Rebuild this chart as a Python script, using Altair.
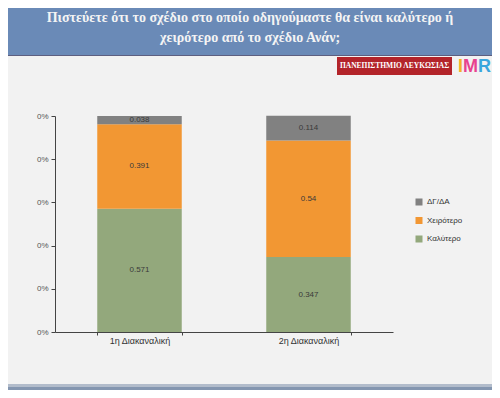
import altair as alt
import pandas as pd

categories = ["1η Διακαναλική", "2η Διακαναλική"]
series = ["Καλύτερο", "Χειρότερο", "ΔΓ/ΔΑ"]
values_better = [0.571, 0.347]
values_worse = [0.391, 0.54]
values_dk = [0.038, 0.114]
value_labels_better = ["0.571", "0.347"]
value_labels_worse = ["0.391", "0.54"]
value_labels_dk = ["0.038", "0.114"]
y_ticks = [0, 0.2, 0.4, 0.6, 0.8, 1.0]
title_lines = ["Πιστεύετε ότι το σχέδιο στο οποίο οδηγούμαστε θα είναι καλύτερο ή",
               "χειρότερο από το σχέδιο Ανάν;"]
legend_order = ["ΔΓ/ΔΑ", "Χειρότερο", "Καλύτερο"]
colors = {"ΔΓ/ΔΑ": "#818181", "Χειρότερο": "#f29733", "Καλύτερο": "#93a87c"}

rows = []
for s_i, (s, vals, labs) in enumerate(zip(series,
                                           [values_better, values_worse, values_dk],
                                           [value_labels_better, value_labels_worse, value_labels_dk])):
    for c, v, l in zip(categories, vals, labs):
        rows.append({"cat": c, "series": s, "value": v, "label": l, "ord": s_i})
df = pd.DataFrame(rows)

x_enc = alt.X("cat:N", sort=categories,
              scale=alt.Scale(paddingInner=0.5, paddingOuter=0.25),
              axis=alt.Axis(title=None, labelAngle=0, labelFont="Liberation Sans", labelFontSize=9,
                            labelColor="#333333", domainColor="#444444", tickColor="#444444",
                            tickSize=3, tickBand="extent", labelPadding=1))

bars = alt.Chart(df).mark_bar().encode(
    x=x_enc,
    y=alt.Y("value:Q", stack="zero",
            scale=alt.Scale(domain=[0, 1], nice=False),
            axis=alt.Axis(title=None, values=y_ticks, labelExpr="'0%'", grid=False,
                          labelFont="Liberation Sans", labelFontSize=8, labelColor="#555555",
                          domainColor="#444444", tickColor="#444444", tickSize=4, labelPadding=3)),
    color=alt.Color("series:N",
                    scale=alt.Scale(domain=legend_order, range=[colors[k] for k in legend_order]),
                    legend=alt.Legend(title=None, orient="none", legendX=360, legendY=82,
                                      symbolType="square", symbolSize=49, symbolStrokeWidth=0,
                                      labelFont="Liberation Sans", labelFontSize=8,
                                      labelColor="#333333", rowPadding=10.5, labelOffset=4)),
    order=alt.Order("ord:Q", sort="ascending"),
)

texts = alt.Chart(df).transform_stack(
    stack="value", groupby=["cat"], as_=["y0", "y1"],
    sort=[alt.SortField("ord", order="ascending")]
).transform_calculate(mid="(datum.y0 + datum.y1) / 2").mark_text(
    font="Liberation Sans", fontSize=8, color="#3a3a3a"
).encode(
    x=alt.X("cat:N", sort=categories),
    y=alt.Y("mid:Q"),
    text="label:N",
)

one = pd.DataFrame({"k": [0]})
banner = alt.Chart(one).mark_rect(color="#6a8ab7").encode(
    x=alt.value(-60), x2=alt.value(460), y=alt.value(-120), y2=alt.value(-61))
banner_line = alt.Chart(one).mark_rect(color="#5d5f80").encode(
    x=alt.value(-60), x2=alt.value(460), y=alt.value(-61), y2=alt.value(-60))
title1 = alt.Chart(pd.DataFrame({"t": [title_lines[0]]})).mark_text(
    font="Liberation Serif", fontSize=14, fontWeight="bold", color="#f4f4f4", align="center",
    baseline="middle").encode(x=alt.value(195), y=alt.value(-98), text="t:N")
title2 = alt.Chart(pd.DataFrame({"t": [title_lines[1]]})).mark_text(
    font="Liberation Serif", fontSize=14, fontWeight="bold", color="#f4f4f4", align="center",
    baseline="middle").encode(x=alt.value(195), y=alt.value(-78), text="t:N")
redbox = alt.Chart(one).mark_rect(color="#b3242a").encode(
    x=alt.value(282), x2=alt.value(397), y=alt.value(-59), y2=alt.value(-41))
redtext = alt.Chart(pd.DataFrame({"t": ["ΠΑΝΕΠΙΣΤΗΜΙΟ ΛΕΥΚΩΣΙΑΣ"]})).mark_text(
    font="Liberation Serif", fontSize=7.5, fontWeight="bold", color="#ffffff", align="center",
    baseline="middle").encode(x=alt.value(339.5), y=alt.value(-50), text="t:N")
logo_i = alt.Chart(pd.DataFrame({"t": ["I"]})).mark_text(
    font="Liberation Sans", fontSize=18, fontWeight="bold", color="#f5b323", align="left",
    baseline="middle").encode(x=alt.value(403), y=alt.value(-49), text="t:N")
logo_m = alt.Chart(pd.DataFrame({"t": ["M"]})).mark_text(
    font="Liberation Sans", fontSize=18, fontWeight="bold", color="#e8428f", align="left",
    baseline="middle").encode(x=alt.value(408), y=alt.value(-49), text="t:N")
logo_r = alt.Chart(pd.DataFrame({"t": ["R"]})).mark_text(
    font="Liberation Sans", fontSize=18, fontWeight="bold", color="#3aa6dd", align="left",
    baseline="middle").encode(x=alt.value(423), y=alt.value(-49), text="t:N")
bottom1 = alt.Chart(one).mark_rect(color="#b2bccb").encode(
    x=alt.value(-60), x2=alt.value(460), y=alt.value(268), y2=alt.value(271))
bottom2 = alt.Chart(one).mark_rect(color="#8496b0").encode(
    x=alt.value(-60), x2=alt.value(460), y=alt.value(271), y2=alt.value(280))

chart = alt.layer(
    banner, banner_line, title1, title2, redbox, redtext, logo_i, logo_m, logo_r,
    bottom1, bottom2, bars, texts
).properties(
    width=338, height=216,
    padding={"left": 47, "top": 108, "right": 99, "bottom": 58},
    autosize=alt.AutoSizeParams(type="none"),
    background="#f2f2f2",
).configure_view(stroke=None)

chart.save("out.html", embed_options={"renderer": "svg", "actions": False})
